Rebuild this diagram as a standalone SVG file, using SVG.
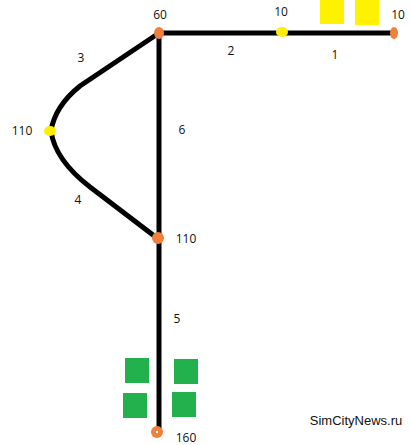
<svg xmlns="http://www.w3.org/2000/svg" width="411" height="445" viewBox="0 0 411 445">
<style>
.road{fill:none;stroke:#000;stroke-width:5;stroke-linecap:round}
.lbl{font-family:"Open Sans","DejaVu Sans",sans-serif;font-size:12px;fill:#111;text-anchor:middle}
.or{fill:#f0803c}
.ye{fill:#ffee00}
.gr{fill:#22b14c}
.yb{fill:#fff200}
</style>
<rect width="411" height="445" fill="#fff"/>
<g id="buildings">
<rect class="yb" x="320" y="0" width="24" height="24"/>
<rect class="yb" x="355" y="0" width="24" height="25"/>
<rect class="gr" x="125" y="358" width="24" height="25"/>
<rect class="gr" x="174" y="359" width="24" height="25"/>
<rect class="gr" x="123" y="393" width="24" height="25"/>
<rect class="gr" x="172" y="392" width="24" height="25"/>
</g>
<g id="connectors">
<path class="road" d="M159 33 L394 33"/>
<path class="road" d="M159 33 L159 432"/>
<path class="road" d="M159 33 L80 86 Q55 106 51 131"/>
<path class="road" d="M51 131 Q55 160 90 187 L157 238"/>
</g>
<g id="n60"><ellipse class="or" cx="159" cy="33" rx="5" ry="6"/><text class="lbl" x="160" y="19">60</text></g>
<g id="n10a"><ellipse class="ye" cx="282" cy="32" rx="6" ry="5"/><text class="lbl" x="281" y="16">10</text></g>
<g id="n10b"><ellipse class="or" cx="394" cy="33" rx="4" ry="6"/><text class="lbl" x="398" y="19">10</text></g>
<g id="n110a"><ellipse class="ye" cx="50" cy="131" rx="6" ry="5"/><text class="lbl" x="22" y="135">110</text></g>
<g id="n110b"><ellipse class="or" cx="158" cy="238" rx="6" ry="6"/><text class="lbl" x="186" y="243">110</text></g>
<g id="n160"><circle class="or" cx="157" cy="432" r="6"/><circle cx="157" cy="432" r="1.2" fill="#fff"/><text class="lbl" x="186" y="442">160</text></g>
<g id="labels">
<text class="lbl" x="231" y="55">2</text>
<text class="lbl" x="335" y="59">1</text>
<text class="lbl" x="81" y="62">3</text>
<text class="lbl" x="182" y="134">6</text>
<text class="lbl" x="78" y="204">4</text>
<text class="lbl" x="177" y="323">5</text>
<text x="356" y="425" font-family="'Liberation Sans',Arial,sans-serif" font-size="13" fill="#111" text-anchor="middle">SimCityNews.ru</text>
</g>
</svg>
